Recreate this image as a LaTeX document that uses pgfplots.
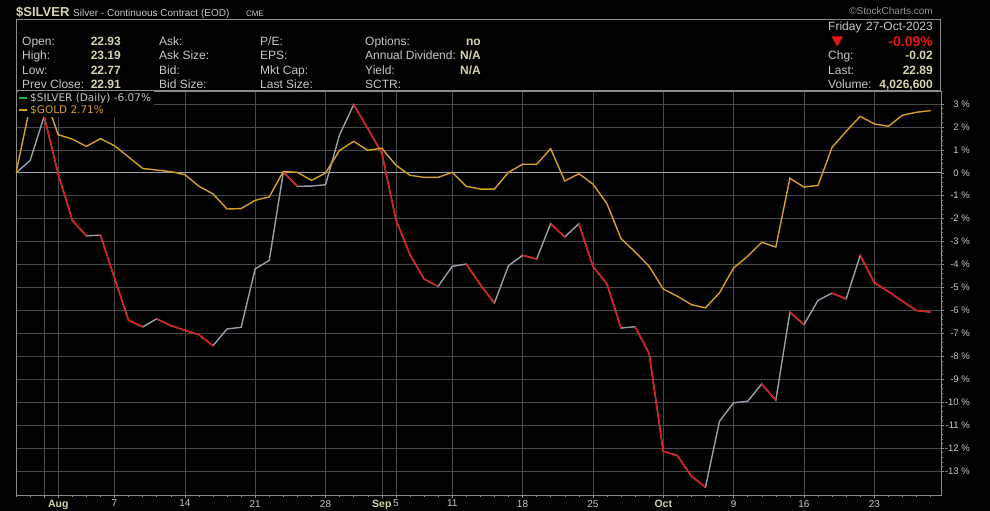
\documentclass[border=0pt]{standalone}
\usepackage{pgfplots}
\pgfplotsset{compat=1.18}
\usepackage{fontspec}
\setmainfont{Liberation Sans}
\newfontfamily\dejavu{DejaVu Sans}
\definecolor{goldc}{RGB}{214,160,40}
\definecolor{silv}{RGB}{150,160,170}
\definecolor{redc}{RGB}{228,22,22}
\definecolor{gridc}{RGB}{72,72,72}
\definecolor{zeroc}{RGB}{165,165,165}
\definecolor{frame}{RGB}{140,140,140}
\definecolor{lbl}{RGB}{200,200,195}
\definecolor{val}{RGB}{215,210,175}
\definecolor{legg}{RGB}{30,180,40}
\definecolor{copyc}{RGB}{150,150,150}
\newcommand{\mon}[1]{\textcolor{val}{\bfseries\fontsize{10.5}{10.5}\selectfont #1}}
\newcommand{\fs}[1]{\fontsize{#1}{#1}\selectfont}

\pgfplotstableread{
idx silver
0 0.00
1 0.53
2 2.46
3 -0.05
4 -2.07
5 -2.75
6 -2.72
7 -4.59
8 -6.43
9 -6.72
10 -6.37
11 -6.66
12 -6.87
13 -7.06
14 -7.54
15 -6.81
16 -6.74
17 -4.19
18 -3.82
19 0.03
20 -0.59
21 -0.58
22 -0.52
23 1.66
24 2.97
25 1.93
26 0.86
27 -2.04
28 -3.57
29 -4.63
30 -4.95
31 -4.08
32 -3.98
33 -4.88
34 -5.68
35 -4.05
36 -3.60
37 -3.76
38 -2.22
39 -2.80
40 -2.22
41 -4.08
42 -4.85
43 -6.77
44 -6.71
45 -7.89
46 -12.14
47 -12.33
48 -13.23
49 -13.71
50 -10.83
51 -10.03
52 -9.96
53 -9.21
54 -9.92
55 -6.08
56 -6.62
57 -5.56
58 -5.25
59 -5.50
60 -3.60
61 -4.79
62 -5.18
63 -5.60
64 -6.01
65 -6.07
}\silvertable

\pgfplotstableread{
idx gold
0 0.00
1 2.90
2 3.40
3 1.66
4 1.47
5 1.15
6 1.49
7 1.18
8 0.69
9 0.19
10 0.12
11 0.05
12 -0.08
13 -0.59
14 -0.92
15 -1.58
16 -1.56
17 -1.20
18 -1.05
19 0.06
20 0.02
21 -0.33
22 -0.01
23 0.98
24 1.37
25 0.98
26 1.07
27 0.33
28 -0.11
29 -0.20
30 -0.20
31 0.02
32 -0.59
33 -0.71
34 -0.71
35 0.02
36 0.37
37 0.37
38 1.05
39 -0.36
40 -0.04
41 -0.49
42 -1.35
43 -2.87
44 -3.45
45 -4.08
46 -5.07
47 -5.38
48 -5.75
49 -5.89
50 -5.23
51 -4.15
52 -3.64
53 -3.03
54 -3.24
55 -0.24
56 -0.62
57 -0.55
58 1.11
59 1.81
60 2.46
61 2.13
62 2.03
63 2.51
64 2.64
65 2.71
}\goldtable

\begin{document}
\begin{tikzpicture}[x=1pt,y=1pt]
\useasboundingbox (0,0) rectangle (990,-511);
\fill[black] (0,0) rectangle (990,-511);
% title
\node[anchor=base west,inner sep=0,text=val,font=\fs{13}\bfseries] at (16,-16.7) {\$SILVER};
\node[anchor=base west,inner sep=0,text=lbl,font=\fs{10}] at (73,-16.7) {Silver - Continuous Contract (EOD)};
\node[anchor=base west,inner sep=0,text=lbl,font=\fs{8}] at (246,-16.7) {CME};
\node[anchor=base east,inner sep=0,text=copyc,font=\fs{10}] at (933,-15) {©StockCharts.com};
\draw[frame,line width=0.8pt] (16,-19.3) rectangle (940.7,-90.7);
% info rows
\foreach \t/\y in {{Open:}/45.3,{High:}/59.8,{Low:}/74.3,{Prev Close:}/88.7}
  \node[anchor=base west,inner sep=0,text=lbl,font=\fs{12}] at (22,-\y) {\t};
\foreach \t/\y in {{22.93}/45.3,{23.19}/59.8,{22.77}/74.3,{22.91}/88.7}
  \node[anchor=base east,inner sep=0,text=val,font=\fs{12}\bfseries] at (121,-\y) {\t};
\foreach \t/\y in {{Ask:}/45.3,{Ask Size:}/59.8,{Bid:}/74.3,{Bid Size:}/88.7}
  \node[anchor=base west,inner sep=0,text=lbl,font=\fs{12}] at (159,-\y) {\t};
\foreach \t/\y in {{P/E:}/45.3,{EPS:}/59.8,{Mkt Cap:}/74.3,{Last Size:}/88.7}
  \node[anchor=base west,inner sep=0,text=lbl,font=\fs{12}] at (260,-\y) {\t};
\foreach \t/\y in {{Options:}/45.3,{Annual Dividend:}/59.8,{Yield:}/74.3,{SCTR:}/88.7}
  \node[anchor=base west,inner sep=0,text=lbl,font=\fs{12}] at (365,-\y) {\t};
\foreach \t/\y in {{no}/45.3,{N/A}/59.8,{N/A}/74.3}
  \node[anchor=base east,inner sep=0,text=val,font=\fs{12}\bfseries] at (481,-\y) {\t};
% right block
\node[anchor=base west,inner sep=0,text=lbl,font=\fs{12}] at (828,-31) {Friday};
\node[anchor=base east,inner sep=0,text=lbl,font=\fs{12}] at (933,-31) {27-Oct-2023};
\fill[redc] (831.5,-36.5) -- (843,-36.5) -- (837.25,-46.5) -- cycle;
\node[anchor=base east,inner sep=0,text=redc,font=\fs{14}\bfseries] at (933,-46.7) {-0.09\%};
\foreach \t/\y in {{Chg:}/59.8,{Last:}/74.3,{Volume:}/88.7}
  \node[anchor=base west,inner sep=0,text=lbl,font=\fs{12}] at (828,-\y) {\t};
\foreach \t/\y in {{-0.02}/59.8,{22.89}/74.3,{4,026,600}/88.7}
  \node[anchor=base east,inner sep=0,text=val,font=\fs{12}\bfseries] at (933,-\y) {\t};

\begin{axis}[
  at={(16pt,-495pt)}, anchor=south west,
  scale only axis, width=925pt, height=404pt,
  xmin=0, xmax=65.74, ymin=-14.05, ymax=3.566,
  axis background/.style={fill=black},
  axis line style={draw=frame, line width=0.8pt},
  xtick={2,3,7,12,17,22,26,27,31,36,41,46,51,56,61},
  xticklabels={{},\mon{Aug},7,14,21,28,\mon{Sep},5,11,18,25,\mon{Oct},9,16,23},
  minor xtick={0,...,65},
  ytick={-13,-12,...,3},
  yticklabels={-13 \%,-12 \%,-11 \%,-10 \%,-9 \%,-8 \%,-7 \%,-6 \%,-5 \%,-4 \%,-3 \%,-2 \%,-1 \%,0 \%,1 \%,2 \%,3 \%},
  minor y tick num=4,
  xtick pos=left, ytick pos=right, yticklabel pos=right,
  tick align=outside,
  major tick length=3pt, minor tick length=2pt,
  tick style={draw=frame, line width=0.5pt},
  xmajorgrids, ymajorgrids,
  major grid style={draw=gridc, line width=0.6pt},
  xticklabel style={font=\fs{10}, text=lbl, yshift=1.5pt},
  yticklabel style={font=\fs{9.5}, text=lbl, anchor=east, inner sep=0pt, xshift=26pt},
  extra y ticks={0}, extra y tick labels={},
  extra y tick style={major grid style={draw=zeroc, line width=0.8pt}, major tick length=0pt},
  unbounded coords=jump,
  legend style={at={(0,1)}, anchor=north west, xshift=1.5pt, yshift=0pt, fill=black, draw=none,
    font=\dejavu\fs{10.5}, inner sep=0.5pt, row sep=-1pt,
    cells={anchor=west, inner sep=0.5pt, text height=7.5pt, text depth=1pt}},
  legend cell align=left,
  legend image code/.code={\draw[#1, line width=2pt] (0pt,0pt) -- (8pt,0pt);},
]
\addplot[forget plot, silv, line width=1.4pt] table[x=idx, y=silver] {\silvertable};
\addplot[forget plot, redc, line width=1.4pt] coordinates {
(2,2.46) (3,-0.05) (4,-2.07) (5,-2.75) (5,nan)
(6,-2.72) (7,-4.59) (8,-6.43) (9,-6.72) (9,nan)
(10,-6.37) (11,-6.66) (12,-6.87) (13,-7.06) (14,-7.54) (14,nan)
(19,0.03) (20,-0.59) (20,nan)
(24,2.97) (25,1.93) (26,0.86) (27,-2.04) (28,-3.57) (29,-4.63) (30,-4.95) (30,nan)
(32,-3.98) (33,-4.88) (34,-5.68) (34,nan)
(36,-3.60) (37,-3.76) (37,nan)
(38,-2.22) (39,-2.80) (39,nan)
(40,-2.22) (41,-4.08) (42,-4.85) (43,-6.77) (43,nan)
(44,-6.71) (45,-7.89) (46,-12.14) (47,-12.33) (48,-13.23) (49,-13.71) (49,nan)
(53,-9.21) (54,-9.92) (54,nan)
(55,-6.08) (56,-6.62) (56,nan)
(58,-5.25) (59,-5.50) (59,nan)
(60,-3.60) (61,-4.79) (62,-5.18) (63,-5.60) (64,-6.01) (65,-6.07)
};
\addplot[forget plot, goldc, line width=1.4pt] table[x=idx, y=gold] {\goldtable};
\addlegendimage{legg}
\addlegendentry{\textcolor{lbl}{\$SILVER (Daily) -6.07\%}}
\addlegendimage{goldc}
\addlegendentry{\textcolor{goldc}{\$GOLD 2.71\%}}
\end{axis}
\end{tikzpicture}
\end{document}
